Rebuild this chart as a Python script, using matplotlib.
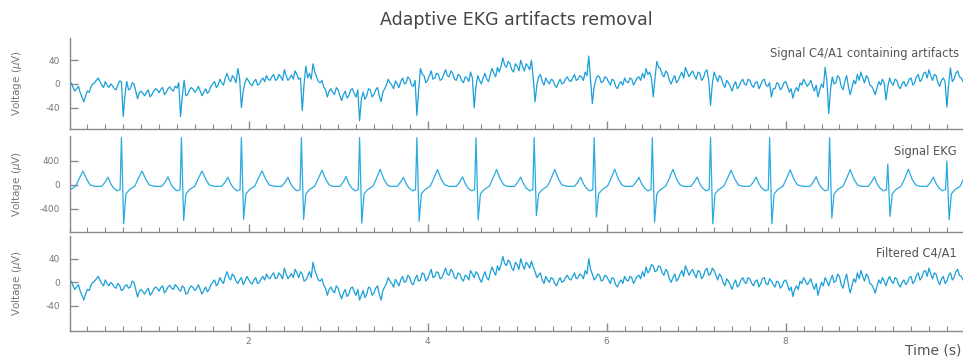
import numpy as np
import matplotlib
matplotlib.use("Agg")
import matplotlib.pyplot as plt
from matplotlib.ticker import MultipleLocator, FixedLocator

# ---------------- data ----------------
fs = 50.0

filtered_c4a1 = [
    -3, 2, -6, -12, -8, -4, -15, -22, -30, -20, -12, -14, -5, 0, 2, 6, 10, 4, -2, -6,
    4, -2, -6, 0, -3, -8, -10, -2, -5, -14, -12, -6, -4, -10, -8, 2, 0, -12, -25, -15,
    -12, -16, -20, -14, -10, -22, -18, -12, -8, -10, -15, -9, -6, -18, -14, -8, -5, -10, -12, -4,
    -7, -12, -15, -6, -9, -20, -18, -10, -6, -9, -14, -10, -4, -12, -20, -14, -8, -16, -12, -4,
    0, 4, -6, -2, 8, 2, -2, 10, 18, 8, 4, 14, 10, 2, -2, 4, 8, -4, 2, 10,
    5, 0, -3, 4, 8, -2, 0, 6, 10, 4, 14, 8, 6, 12, 16, 6, 8, 16, 12, 6,
    24, 14, 6, 10, 15, 8, 22, 16, 8, 18, 14, 2, 4, 10, 18, 8, 34, 20, 12, 4,
    2, 6, -5, -10, -22, -12, -8, -14, -18, -6, -10, -20, -28, -18, -12, -24, -20, -10, -8, -16,
    -22, -12, -30, -22, -14, -26, -20, -8, -10, -22, -18, -10, -6, -20, -30, -14, -8, -2, 8, 2,
    -2, -8, 5, 0, -6, 4, 10, 0, 2, 12, 8, -2, -4, 6, 12, 2, 4, 16, 14, 2,
    6, 14, 22, 8, 10, 18, 16, 6, 8, 16, 24, 14, 12, 22, 18, 8, 6, 16, 14, 6,
    2, 12, 10, 4, 20, 14, 8, 18, 14, 6, 0, 10, 18, 8, 4, 16, 26, 18, 12, 28,
    20, 30, 44, 32, 28, 38, 34, 24, 20, 34, 30, 22, 40, 30, 22, 34, 30, 24, 36, 26,
    18, 8, 12, 16, 4, -2, 10, 4, 0, 8, 6, -2, -6, 2, 8, 0, 2, 8, 12, 6,
    4, 10, 16, 6, 8, 14, 12, 6, 20, 14, 40, 22, 14, 4, 8, 14, 12, 2, 4, 12,
    10, 4, -2, 8, 6, -4, -8, 0, 4, -2, 10, 4, 2, 10, 8, -2, 4, 10, 12, 6,
    18, 10, 26, 16, 20, 30, 28, 18, 20, 28, 26, 16, 12, 22, 18, 6, 0, 8, 14, 2,
    6, 14, 20, 10, 28, 20, 12, 18, 22, 14, 8, 20, 18, 6, 10, 20, 24, 12, 14, 24,
    20, 12, 4, 14, 10, 0, -6, 6, 2, -4, -12, -2, 4, -8, -4, 4, 8, 0, -2, 8,
    6, -2, -6, 2, 4, -8, -2, 6, 8, -2, -4, 6, 2, -4, -8, 2, 0, -10, -6, 2,
    4, -4, -14, -8, -24, -12, -6, -12, 2, -2, 8, 2, -4, 0, 6, -4, -12, -2, -22, -10,
    0, -6, 8, 2, -6, 4, 12, 0, 2, 14, 10, -4, -10, 4, 14, -4, -18, -6, 6, 0,
    16, 6, 20, 10, 2, 14, 10, -2, -4, -10, -18, -6, 4, -2, 8, 2, -6, 4, 10, 2,
    -2, 8, 6, -4, -8, 0, 4, -4, 0, 8, 10, -2, 2, 12, 16, 4, 8, 18, 20, 10,
    24, 14, 6, 16, 14, 2, -4, 6, 10, -2, 2, 12, 16, 4, 8, 18, 22, 12, 10, 4,
]

# samples of the top trace that differ from the filtered one (EKG artifacts)
artifact_idx = [28, 29, 30, 31, 32,
                61, 62, 63, 64,
                94, 95, 96, 97,
                129, 130, 131, 132,
                161, 162, 163,
                193, 194, 195, 196,
                225, 226, 227,
                258, 259, 260, 261,
                290, 291, 292, 293,
                325, 326, 327, 328,
                357, 358, 359,
                391, 392, 393,
                422, 423, 424, 425,
                455, 456, 457,
                489, 490, 491, 492]
artifact_val = [5, 4, -55, -18, 4,
                2, -55, -20, 6,
                26, 10, -40, -12,
                10, -45, 0, 30,
                -10, -62, -25,
                6, -53, -10, 26,
                10, -40, -5,
                40, 10, -30, -2,
                47, 8, -33, -5,
                10, -22, 10, 38,
                6, -36, 0,
                2, -22, -8,
                28, 5, -50, -10,
                2, -27, -5,
                4, -39, 0, 27]

# EKG: per-beat features
r_times = [-0.08, 0.58, 1.25, 1.92, 2.59, 3.24, 3.88, 4.54, 5.19, 5.86,
           6.51, 7.16, 7.82, 8.49, 9.14, 9.80]
r_amp = [790, 790, 790, 790, 790, 790, 790, 790, 790, 790,
         790, 790, 790, 790, 350, 400]
s_amp = [-600, -650, -594, -572, -577, -640, -610, -583, -516, -538,
         -622, -650, -650, -555, -527, -583]
t_amp = [230, 233, 233, 235, 245, 260, 255, 255, 258, 262,
         260, 245, 250, 255, 262, 250]
p_amp = [125, 128, 135, 128, 125, 139, 125, 135, 130, 128,
         125, 130, 132, 135, 135, 130]
# shape of one beat (offset from R in s, level in uV)
beat_offsets = [-0.30, -0.22, -0.185, -0.15, -0.12, -0.09, -0.05, -0.015,
                0.0, 0.025, 0.05, 0.09, 0.15, 0.19, 0.23, 0.27, 0.31]
beat_levels = ['b', 'b', 40, 'P', 20, -50, -100, -80,
               'R', 'S', -150, -80, -20, 110, 'T', 100, 0]
baseline = -25

xmax = 9.98

# ---------------- figure ----------------
line_col = '#1b9fd8'
ekg_col = '#2aaae0'
txt_col = '#555555'
spine_col = '#8a8a8a'

fig = plt.figure(figsize=(9.63, 3.58), dpi=100)

left = 69.5 / 963
width = 1.0 - left
ax1 = fig.add_axes([left, 0.6388, width, 0.2559])
ax2 = fig.add_axes([left, 0.3528, width, 0.2673])
ax3 = fig.add_axes([left, 0.0754, width, 0.2654])

t = np.arange(len(filtered_c4a1)) / fs
raw_c4a1 = list(filtered_c4a1)
for k, v in zip(artifact_idx, artifact_val):
    raw_c4a1[k] = v

ax1.plot(t, raw_c4a1, color=line_col, lw=0.9)
ax3.plot(t, filtered_c4a1, color=line_col, lw=0.9)

# build EKG polyline from beat features
ekg_t, ekg_v = [], []
for i, rt in enumerate(r_times):
    for off, lev in zip(beat_offsets, beat_levels):
        if lev == 'b':
            v = baseline
        elif lev == 'P':
            v = p_amp[i]
        elif lev == 'R':
            v = r_amp[i]
        elif lev == 'S':
            v = s_amp[i]
        elif lev == 'T':
            v = t_amp[i]
        else:
            v = lev
        ekg_t.append(rt + off)
        ekg_v.append(v)
ekg_t.append(xmax + 0.1)
ekg_v.append(baseline)
ax2.plot(ekg_t, ekg_v, color=ekg_col, lw=0.9)

ax1.set_ylim(-76.5, 78)
ax2.set_ylim(-783, 817)
ax3.set_ylim(-82.5, 78.5)

for ax, yt in ((ax1, [-40, 0, 40]), (ax2, [-400, 0, 400]), (ax3, [-40, 0, 40])):
    ax.set_xlim(0, xmax)
    ax.set_facecolor('none')
    for s in ('top', 'right'):
        ax.spines[s].set_visible(False)
    for s in ('left', 'bottom'):
        ax.spines[s].set_color(spine_col)
        ax.spines[s].set_linewidth(1.0)
    ax.yaxis.set_major_locator(FixedLocator(yt))
    ax.xaxis.set_major_locator(FixedLocator([2, 4, 6, 8]))
    ax.xaxis.set_minor_locator(MultipleLocator(0.2))
    ax.tick_params(axis='both', which='major', direction='in', length=6,
                   width=1.0, color=spine_col, labelsize=6.5,
                   labelcolor='#777777')
    ax.tick_params(axis='x', which='minor', direction='in', length=3.5,
                   width=0.8, color=spine_col)
    ax.tick_params(axis='y', pad=7)
    ax.tick_params(axis='x', pad=4)
    ax.set_yticklabels([str(v) for v in yt])

ax1.tick_params(axis='x', labelbottom=False)
ax2.tick_params(axis='x', labelbottom=False)
ax3.set_xticklabels(['2', '4', '6', '8'])

# labels
for ax in (ax1, ax2, ax3):
    pos = ax.get_position()
    fig.text(17 / 963, pos.y0 + pos.height / 2, 'Voltage ($\\mu$V)',
             rotation=90, ha='center', va='center', fontsize=7.5,
             color='#777777')

fig.text(516 / 963, 1 - 20 / 358, 'Adaptive EKG artifacts removal',
         ha='center', va='center', fontsize=12.5, color='#444444')
fig.text(959 / 963, 1 - 53 / 358, 'Signal C4/A1 containing artifacts',
         ha='right', va='center', fontsize=8.3, color=txt_col)
fig.text(957 / 963, 1 - 152 / 358, 'Signal EKG',
         ha='right', va='center', fontsize=8.3, color=txt_col)
fig.text(957 / 963, 1 - 253 / 358, 'Filtered C4/A1',
         ha='right', va='center', fontsize=8.3, color=txt_col)
fig.text(961 / 963, 1 - 351 / 358, 'Time (s)',
         ha='right', va='center', fontsize=10, color=txt_col)

fig.savefig('out.png', dpi=100)
